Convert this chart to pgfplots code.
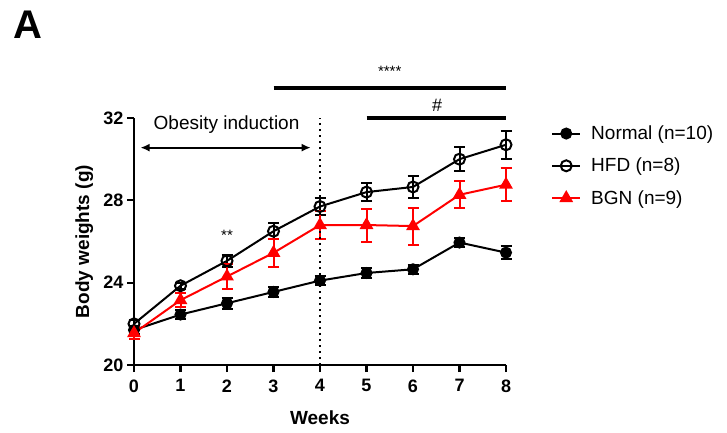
\documentclass[border=0pt]{standalone}
\usepackage{pgfplots}
\pgfplotsset{compat=1.18}
\usepackage{fontspec}
\setmainfont{Liberation Sans}
\usetikzlibrary{arrows.meta}
\pgfplotstableread{
x y e
0 21.7 0.20
1 22.45 0.20
2 23.0 0.27
3 23.55 0.25
4 24.1 0.22
5 24.47 0.22
6 24.65 0.22
7 25.95 0.20
8 25.46 0.30
}\normal
\pgfplotstableread{
x y e
0 22.0 0.20
1 23.85 0.15
2 25.06 0.30
3 26.5 0.40
4 27.7 0.40
5 28.4 0.45
6 28.65 0.55
7 30.0 0.57
8 30.7 0.68
}\hfd
\pgfplotstableread{
x y e
0 21.55 0.30
1 23.15 0.35
2 24.3 0.60
3 25.45 0.67
4 26.8 0.68
5 26.8 0.80
6 26.75 0.90
7 28.27 0.65
8 28.76 0.80
}\bgn
\begin{document}
\begin{tikzpicture}[x=1pt,y=1pt]
\useasboundingbox (0,0) rectangle (727,432);
\node[font=\bfseries\fontsize{40}{40}\selectfont] at (28,407) {A};
\begin{axis}[
  at={(134pt,67pt)}, anchor=south west,
  scale only axis, width=372pt, height=247pt,
  xmin=0, xmax=8, ymin=20, ymax=32,
  clip=false,
  axis x line*=bottom, axis y line*=left,
  axis line style={line width=2.5pt,-},
  tick align=outside,
  major tick length=7pt,
  tick style={line width=2.2pt,black},
  xtick={0,...,8}, ytick={20,24,28,32},
  /pgf/number format/assume math mode=true,
  ticklabel style={font=\bfseries\fontsize{18}{20}\selectfont},
  xticklabel style={yshift=-4pt},
  xlabel={Weeks}, ylabel={Body weights (g)},
  label style={font=\bfseries\fontsize{19}{22}\selectfont},
  xlabel style={at={(axis description cs:0.5,-0.215)},anchor=center},
  ylabel style={at={(axis description cs:-0.134,0.5)},anchor=center},
  legend style={at={(1.113,0.985)}, anchor=north west, draw=none, fill=none,
    font=\fontsize{19}{22}\selectfont, row sep=13pt, column sep=8pt},
  legend cell align=left,
  legend image code/.code={
    \draw[#1,mark repeat=2,mark phase=2] plot coordinates {(0pt,0pt) (14pt,0pt) (28pt,0pt)};},
  error bars/y dir=both, error bars/y explicit,
]
\addplot[black, line width=2pt, mark=*, mark size=5pt,
  error bars/error bar style={line width=2pt},
  error bars/error mark options={rotate=90,line width=2pt,mark size=5.5pt}]
  table[x=x,y=y,y error=e] {\normal};
\addlegendentry{Normal (n=10)}
\addplot[black, line width=2pt, mark=o, mark size=5.5pt, mark options={fill=white},
  error bars/error bar style={line width=2pt},
  error bars/error mark options={rotate=90,line width=2pt,mark size=5.5pt}]
  table[x=x,y=y,y error=e] {\hfd};
\addlegendentry{HFD (n=8)}
\addplot[red, line width=2pt, mark=triangle*, mark size=6pt,
  error bars/error bar style={line width=2pt},
  error bars/error mark options={rotate=90,line width=2pt,mark size=5.5pt}]
  table[x=x,y=y,y error=e] {\bgn};
\addlegendentry{BGN (n=9)}
\draw[line width=2pt, dash pattern=on 2pt off 4pt] (axis cs:4,20) -- (axis cs:4,32);
\draw[line width=4pt] (axis cs:3,33.44) -- (axis cs:8,33.44);
\node[font=\fontsize{15}{15}\selectfont] at (axis cs:5.5,34.25) {****};
\draw[line width=4pt] (axis cs:5,32.0) -- (axis cs:8,32.0);
\node[font=\fontsize{18}{18}\selectfont] at (axis cs:6.52,32.6) {\#};
\node[font=\fontsize{19}{22}\selectfont] at (axis cs:1.99,31.7) {Obesity induction};
\draw[line width=2pt, {Latex[length=9pt,width=8pt]}-{Latex[length=9pt,width=8pt]}] (axis cs:0.14,30.56) -- (axis cs:3.80,30.56);
\node[font=\fontsize{15}{15}\selectfont] at (axis cs:2,26.3) {**};
\end{axis}
\end{tikzpicture}
\end{document}
